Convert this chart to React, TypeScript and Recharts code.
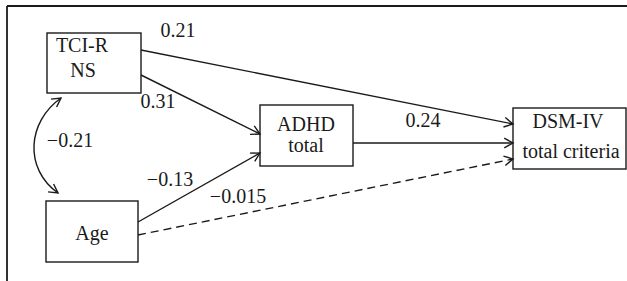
import React from "react";
import {
  ScatterChart,
  Scatter,
  XAxis,
  YAxis,
  ReferenceArea,
  ReferenceLine,
} from "recharts";

// diagram space is in pixels of the 627x281 picture (y grows downward)
const W = 627;
const H = 281;
const INK = "#1a1a1a";
const FONT = "'Liberation Serif', 'Times New Roman', serif";

const nodes = [
  { id: "tci", x1: 47, x2: 141, y1: 33, y2: 93 },
  { id: "adhd", x1: 260, x2: 353, y1: 105, y2: 166 },
  { id: "dsm", x1: 513, x2: 626, y1: 108, y2: 169 },
  { id: "age", x1: 46, x2: 138, y1: 201, y2: 262 },
];

const nodeText = [
  { x: 82, y: 52, text: "TCI-R" },
  { x: 83, y: 77, text: "NS" },
  { x: 306, y: 131, text: "ADHD" },
  { x: 306, y: 152, text: "total" },
  { x: 568, y: 128, text: "DSM-IV" },
  { x: 571, y: 158, text: "total criteria" },
  { x: 92, y: 240, text: "Age" },
];

const paths = [
  { from: { x: 141, y: 50 }, to: { x: 513, y: 124 }, dashed: false },
  { from: { x: 141, y: 75 }, to: { x: 260, y: 134 }, dashed: false },
  { from: { x: 353, y: 143 }, to: { x: 513, y: 143 }, dashed: false },
  { from: { x: 138, y: 222 }, to: { x: 260, y: 153 }, dashed: false },
  { from: { x: 138, y: 235 }, to: { x: 513, y: 159 }, dashed: true },
];

// correlation between NS and Age (double-headed curve)
const covariance = { from: { x: 61, y: 98 }, to: { x: 58, y: 193 } };

const coefficients = [
  { x: 178, y: 37, text: "0.21" },
  { x: 158, y: 108, text: "0.31" },
  { x: 423, y: 127, text: "0.24" },
  { x: 70, y: 147, text: "\u22120.21" },
  { x: 170, y: 186, text: "\u22120.13" },
  { x: 238, y: 203, text: "\u22120.015" },
];

const frame = [
  [{ x: 7, y: 6 }, { x: W, y: 6 }],
  [{ x: 7, y: 6 }, { x: 7, y: H }],
];

const head = (tx: number, ty: number, ang: number, len = 10, spread = 0.5) => {
  const ax = tx - len * Math.cos(ang - spread);
  const ay = ty - len * Math.sin(ang - spread);
  const bx = tx - len * Math.cos(ang + spread);
  const by = ty - len * Math.sin(ang + spread);
  return `M${ax},${ay} L${tx},${ty} L${bx},${by}`;
};

const ArrowShape = (props: any) => {
  const { x1, y1, x2, y2, dashed } = props;
  const ang = Math.atan2(y2 - y1, x2 - x1);
  return (
    <g>
      <line
        x1={x1}
        y1={y1}
        x2={x2}
        y2={y2}
        stroke={INK}
        strokeWidth={1.4}
        strokeDasharray={dashed ? "8 5" : undefined}
      />
      <path d={head(x2, y2, ang)} fill="none" stroke={INK} strokeWidth={1.4} />
    </g>
  );
};

const CurveShape = (props: any) => {
  const { x1, y1, x2, y2 } = props;
  const c1x = x1 - 34;
  const c1y = y1 + 24;
  const c2x = x2 - 34;
  const c2y = y2 - 24;
  const a1 = Math.atan2(y1 - c1y, x1 - c1x);
  const a2 = Math.atan2(y2 - c2y, x2 - c2x);
  return (
    <g>
      <path
        d={`M${x1},${y1} C${c1x},${c1y} ${c2x},${c2y} ${x2},${y2}`}
        fill="none"
        stroke={INK}
        strokeWidth={1.4}
      />
      <path d={head(x1, y1, a1)} fill="none" stroke={INK} strokeWidth={1.4} />
      <path d={head(x2, y2, a2)} fill="none" stroke={INK} strokeWidth={1.4} />
    </g>
  );
};

const FrameShape = (props: any) => (
  <line x1={props.x1} y1={props.y1} x2={props.x2} y2={props.y2} stroke={INK} strokeWidth={1.8} />
);

const BoxShape = (props: any) => (
  <rect
    x={props.x}
    y={props.y}
    width={props.width}
    height={props.height}
    fill="#fff"
    stroke={INK}
    strokeWidth={1.4}
  />
);

const TextShape = (props: any) => (
  <text
    x={props.cx}
    y={props.cy}
    textAnchor="middle"
    fontFamily={FONT}
    fontSize={20}
    fill={INK}
  >
    {props.payload.text}
  </text>
);

export default function App() {
  return (
    <div style={{ position: "absolute", left: 0, top: 0, background: "#fff" }}>
      <ScatterChart width={W} height={H} margin={{ top: 0, right: 0, bottom: 0, left: 0 }}>
        <XAxis type="number" dataKey="x" domain={[0, W]} hide allowDataOverflow />
        <YAxis type="number" dataKey="y" domain={[0, H]} hide reversed allowDataOverflow />
        {frame.map((seg, i) => (
          <ReferenceLine key={"f" + i} segment={seg} ifOverflow="visible" shape={FrameShape} />
        ))}
        {paths.map((p, i) => (
          <ReferenceLine
            key={"p" + i}
            segment={[p.from, p.to]}
            ifOverflow="visible"
            shape={(sp: any) => <ArrowShape {...sp} dashed={p.dashed} />}
          />
        ))}
        <ReferenceLine
          segment={[covariance.from, covariance.to]}
          ifOverflow="visible"
          shape={CurveShape}
        />
        {nodes.map((n) => (
          <ReferenceArea
            key={n.id}
            x1={n.x1}
            x2={n.x2}
            y1={n.y1}
            y2={n.y2}
            ifOverflow="visible"
            shape={BoxShape}
          />
        ))}
        <Scatter data={nodeText} shape={TextShape} isAnimationActive={false} />
        <Scatter data={coefficients} shape={TextShape} isAnimationActive={false} />
      </ScatterChart>
    </div>
  );
}
